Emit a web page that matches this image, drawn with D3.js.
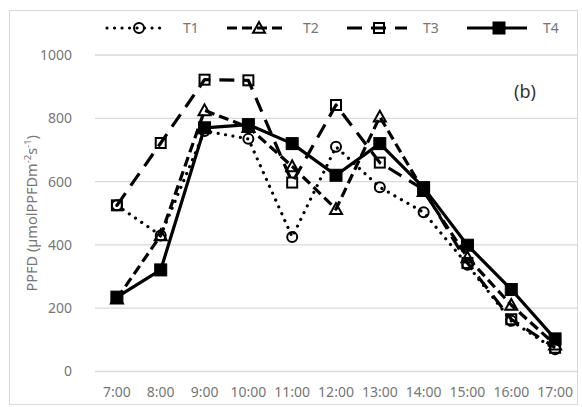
<!DOCTYPE html>
<html><head><meta charset="utf-8">
<script src="https://cdn.jsdelivr.net/npm/d3@7"></script>
<style>body{margin:0;background:#fff;}svg{display:block;}</style>
</head><body><svg id="c" width="582" height="407"></svg>
<script>
const categories = ["7:00","8:00","9:00","10:00","11:00","12:00","13:00","14:00","15:00","16:00","17:00"];
const T1 = [525, 430, 760, 735, 425, 710, 582, 503, 337, 160, 70];
const T2 = [230, 430, 825, 772, 648, 513, 805, 570, 360, 210, 85];
const T3 = [525, 722, 922, 920, 597, 842, 660, 575, 343, 165, 75];
const T4 = [235, 321, 770, 780, 720, 620, 720, 581, 399, 259, 103];
const seriesNames = ["T1","T2","T3","T4"];
const yTicks = [0, 200, 400, 600, 800, 1000];

(function(){
const svg = d3.select("#c");
const font = "'Noto Sans', 'Open Sans', sans-serif";
const grey = "#767676";

svg.append("rect").attr("x",9.5).attr("y",10.5).attr("width",568).attr("height",394)
  .attr("fill","#fff").attr("stroke","#d9d9d9").attr("stroke-width",1);

const pLeft = 95, pRight = 577, pTop = 55, pBottom = 371.5;
const x = d3.scaleBand().domain(categories).range([pLeft, pRight]);
const y = d3.scaleLinear().domain([0, 1000]).range([pBottom, pTop]);
const cx = d => x(d) + x.bandwidth()/2;

svg.append("g").selectAll("line").data(yTicks).join("line")
  .attr("x1", pLeft).attr("x2", pRight)
  .attr("y1", d => y(d)).attr("y2", d => y(d))
  .attr("stroke", "#d9d9d9").attr("stroke-width", 1.3);

const yAxis = d3.axisLeft(y).tickValues(yTicks).tickFormat(d3.format("d")).tickSize(0).tickPadding(0);
const ya = svg.append("g").attr("transform", `translate(${pLeft-23},0)`).call(yAxis);
ya.select(".domain").remove();
ya.selectAll("text").attr("font-family", font).attr("font-size", 14).attr("fill", grey);

const xAxis = d3.axisBottom(x).tickSize(0).tickPadding(0);
const xa = svg.append("g").attr("transform", `translate(0,${pBottom+16})`).call(xAxis);
xa.select(".domain").remove();
xa.selectAll("text").attr("font-family", font).attr("font-size", 14).attr("fill", grey);

const title = svg.append("text")
  .attr("transform", `translate(37,${(pTop+pBottom)/2}) rotate(-90)`)
  .attr("text-anchor","middle").attr("font-family", font).attr("font-size", 14.5).attr("fill", grey);
title.append("tspan").text("PPFD (µmolPPFDm");
title.append("tspan").attr("baseline-shift","super").attr("font-size",9.5).text("-2");
title.append("tspan").text("s");
title.append("tspan").attr("baseline-shift","super").attr("font-size",9.5).text("-1");
title.append("tspan").text(")");

svg.append("text").attr("x", 514).attr("y", 98).attr("font-family", font).attr("font-size", 18)
  .attr("fill", "#333").text("(b)");

const styles = {
  T1: {dash: "0.01,7.5", cap: "round", width: 3.2, marker: "circle"},
  T2: {dash: "10,5", cap: "butt", width: 3.2, marker: "triangle"},
  T3: {dash: "15,9", cap: "butt", width: 3.2, marker: "square"},
  T4: {dash: null, cap: "butt", width: 3.2, marker: "fsquare"}
};
const data = {T1, T2, T3, T4};

function drawMarker(g, type, px, py) {
  if (type === "circle") {
    g.append("circle").attr("cx", px).attr("cy", py).attr("r", 5)
      .attr("fill", "none").attr("stroke", "#000").attr("stroke-width", 2);
  } else if (type === "triangle") {
    const s = 6;
    g.append("path").attr("d", `M${px},${py-s}L${px+s},${py+s*0.8}L${px-s},${py+s*0.8}Z`)
      .attr("fill", "none").attr("stroke", "#000").attr("stroke-width", 2);
  } else if (type === "square") {
    g.append("rect").attr("x", px-5).attr("y", py-5).attr("width", 10).attr("height", 10)
      .attr("fill", "none").attr("stroke", "#000").attr("stroke-width", 2);
  } else {
    g.append("rect").attr("x", px-6).attr("y", py-6).attr("width", 12).attr("height", 12)
      .attr("fill", "#000").attr("stroke", "#000").attr("stroke-width", 1);
  }
}

const line = d3.line().x((d,i) => cx(categories[i])).y(d => y(d));
seriesNames.forEach(name => {
  const st = styles[name];
  const g = svg.append("g");
  g.append("path").datum(data[name]).attr("d", line)
    .attr("fill", "none").attr("stroke", "#000").attr("stroke-width", st.width)
    .attr("stroke-dasharray", st.dash).attr("stroke-linecap", st.cap).attr("stroke-linejoin","round");
  data[name].forEach((v,i) => drawMarker(g, st.marker, cx(categories[i]), y(v)));
});

const legY = 28;
seriesNames.forEach((name, i) => {
  const st = styles[name];
  const x0 = 107 + i*120;
  const g = svg.append("g");
  g.append("line").attr("x1", x0).attr("x2", x0+60).attr("y1", legY).attr("y2", legY)
    .attr("stroke", "#000").attr("stroke-width", st.width)
    .attr("stroke-dasharray", st.dash).attr("stroke-linecap", st.cap);
  drawMarker(g, st.marker, x0+32, legY);
  g.append("text").attr("x", x0+76).attr("y", legY+5).attr("font-family", font)
    .attr("font-size", 14).attr("fill", grey).text(name);
});
})();
</script></body></html>
